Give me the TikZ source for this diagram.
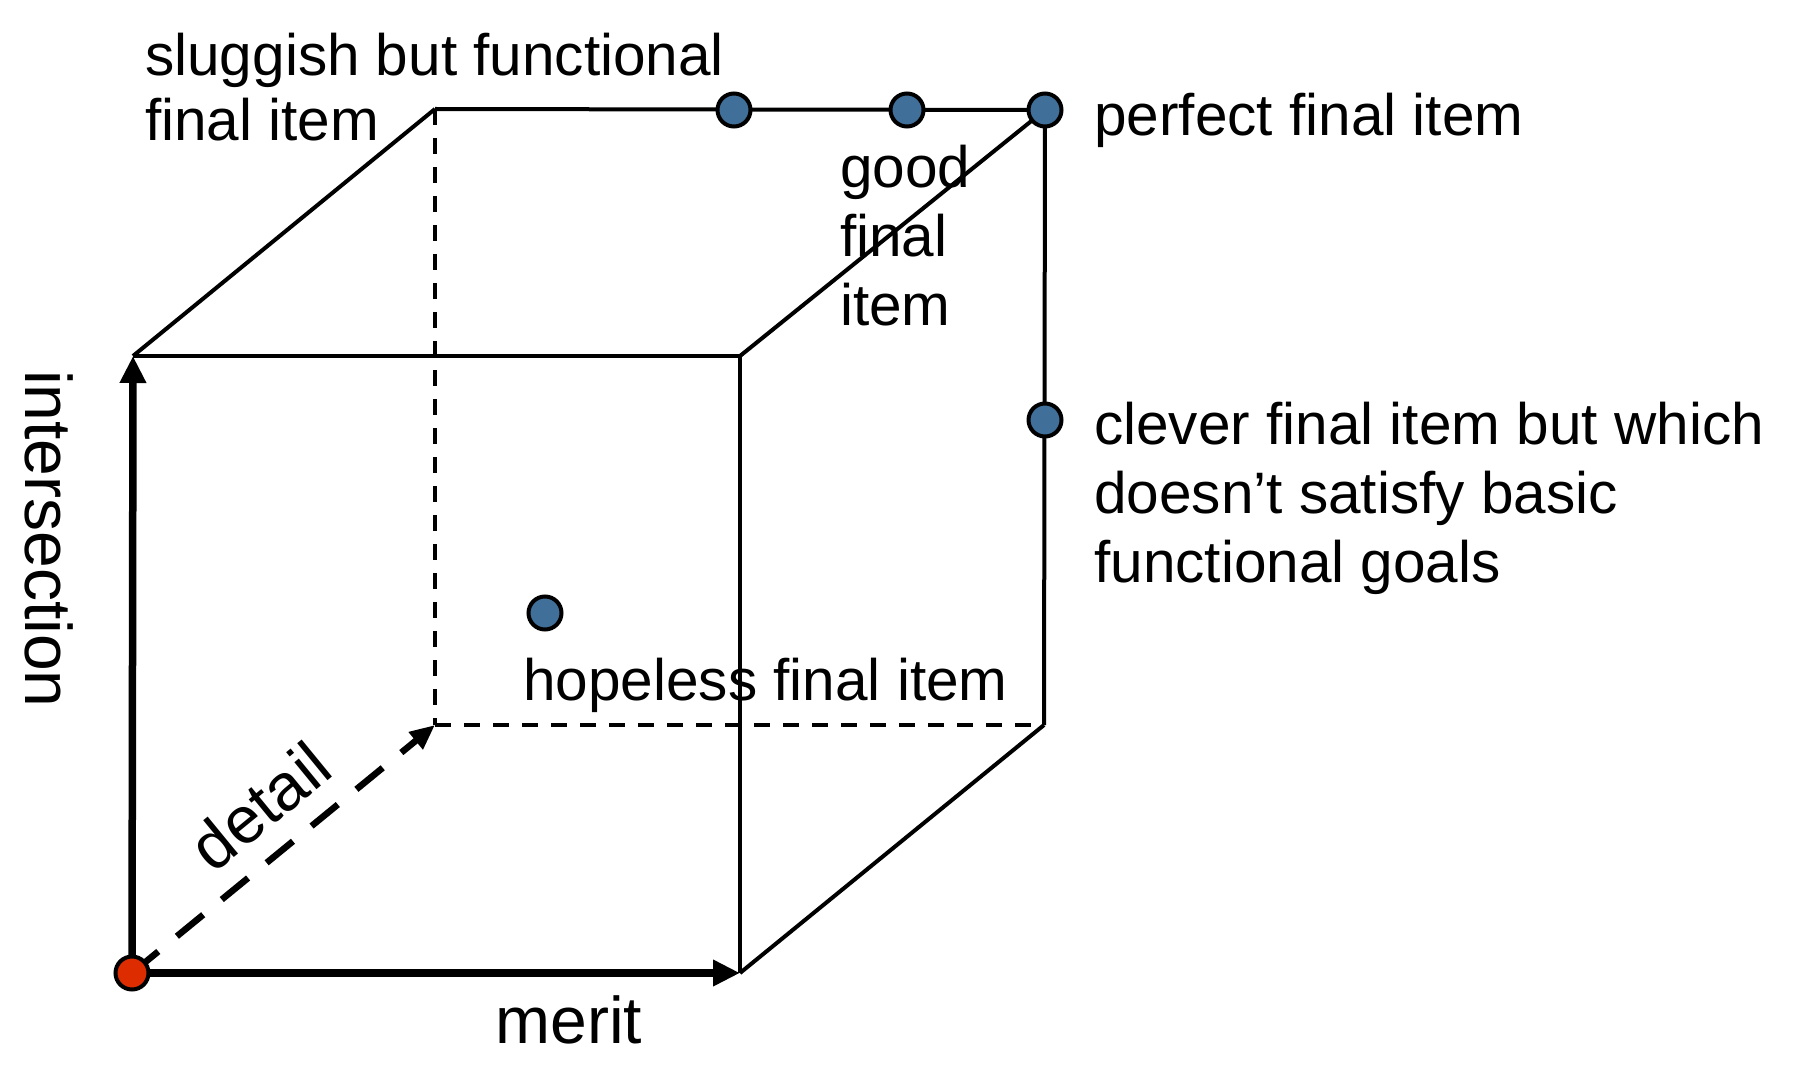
\documentclass[tikz,border=0pt]{standalone}
\usepackage{fontspec}
\setmainfont{Liberation Sans}
\usetikzlibrary{arrows.meta}
\definecolor{dotblue}{RGB}{64,111,154}
\definecolor{dotred}{RGB}{221,44,0}
\begin{document}
\begin{tikzpicture}[x=1pt,y=-1pt,
  edge/.style={line width=4pt},
  hidden/.style={line width=4pt, dash pattern=on 16pt off 13pt},
  axis/.style={line width=7.5pt, -{Triangle[length=27pt,width=25pt]}},
  daxis/.style={line width=6.5pt, dash pattern=on 34pt off 24pt, -{Triangle[length=25pt,width=21pt]}},
  dot/.style={circle, draw, line width=4pt, fill=dotblue, minimum size=33pt, inner sep=0pt},
  lbl/.style={font=\fontsize{58.5}{65}\selectfont, inner sep=0pt, anchor=base west, align=left},
  axlbl/.style={font=\fontsize{66}{76}\selectfont, inner sep=0pt}]
\useasboundingbox (0,0) rectangle (1812,1075);
% cube corners
\coordinate (o)   at (132,973);
\coordinate (fbr) at (740,973);
\coordinate (ftl) at (133,356);
\coordinate (ftr) at (740,356);
\coordinate (btl) at (435,109);
\coordinate (btr) at (1045,110);
\coordinate (bbr) at (1044,725);
\coordinate (bbl) at (435,725);
% hidden edges
\draw[hidden] (btl) -- (bbl);
\draw[hidden] (bbl) -- (bbr);
% visible edges
\draw[edge] (ftl) -- (ftr);
\draw[edge] (ftr) -- (fbr);
\draw[edge] (ftl) -- (btl);
\draw[edge] (btl) -- (btr);
\draw[edge] (btr) -- (bbr);
\draw[edge] (ftr) -- (btr);
\draw[edge] (fbr) -- (bbr);
% axes
\draw[axis] (o) -- (ftl);
\draw[axis] (o) -- (fbr);
\draw[daxis] (o) -- (bbl);
% labels (base = baseline of the last line)
\node[lbl] (slug) at (145,141) {sluggish but functional\\final item};
\node[lbl] (perf) at (1094,136) {perfect final item};
\node[lbl, font=\fontsize{58.5}{69}\selectfont] (good) at (840,325) {good\\final\\item};
\node[lbl, font=\fontsize{58.5}{69}\selectfont] (clev) at (1094,582) {clever final item but which\\doesn’t satisfy basic\\functional goals};
\node[lbl] (hope) at (523,700) {hopeless final item};
\node[axlbl, anchor=base] (merit) at (569,1043) {merit};
\node[axlbl, anchor=base west, rotate=-90] (inter) at (25,370) {intersection};
\node[axlbl, rotate=39.3] (det) at (260,806) {detail};
% dots
\node[dot] (d1) at (734,110) {};
\node[dot] (d2) at (907,110) {};
\node[dot] (d3) at (btr) {};
\node[dot] (d4) at (1045,420) {};
\node[dot] (d5) at (545,613) {};
\node[dot, fill=dotred] (d0) at (o) {};
\end{tikzpicture}
\end{document}
